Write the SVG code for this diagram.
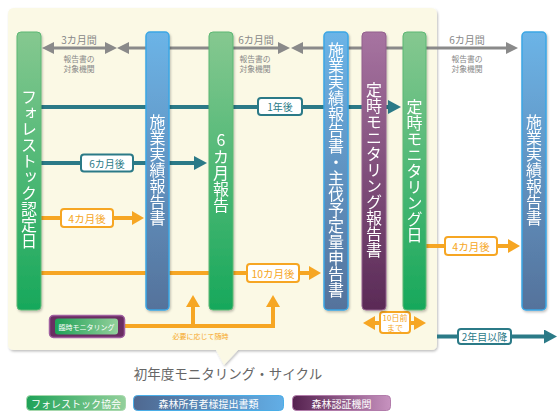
<svg xmlns="http://www.w3.org/2000/svg" width="560" height="418" viewBox="0 0 560 418">
<style>
text{font-family:"Noto Sans CJK JP","Noto Sans",sans-serif}
.vt{writing-mode:vertical-rl;font-size:16px;fill:#fff}
.ht{font-size:16px;fill:#fff;text-anchor:middle}
.gl{stroke:#8a8a8a;stroke-width:3;fill:none}
.tl{stroke:#2b7a87;stroke-width:4;fill:none}
.ol{stroke:#f6a623;stroke-width:4;fill:none}
.tb{fill:#fff;stroke:#2b7a87;stroke-width:2}
.ob{fill:#fff;stroke:#f6a623;stroke-width:2}
.tt{fill:#2b7a87;font-size:10px;text-anchor:middle;dominant-baseline:central}
.ot{fill:#f6a623;font-size:10.5px;text-anchor:middle;dominant-baseline:central}
.gt{fill:#888;font-size:10px;text-anchor:middle;dominant-baseline:central}
.gs{fill:#888;font-size:7.8px;text-anchor:middle;dominant-baseline:central}
.lg{fill:#fff;font-size:10px;text-anchor:middle;dominant-baseline:central}
.green{fill:url(#gG);stroke:#5cb874;stroke-width:1}
.blue{fill:url(#gB);stroke:#3ba7e5;stroke-width:1.5}
.purple{fill:url(#gP);stroke:#93608e;stroke-width:1}
</style>
<defs>
<linearGradient id="gG" x1="0" y1="0" x2="0" y2="1"><stop offset="0" stop-color="#86c890"/><stop offset="1" stop-color="#17a85b"/></linearGradient>
<linearGradient id="gB" x1="0" y1="0" x2="0" y2="1"><stop offset="0" stop-color="#6cb4e7"/><stop offset="1" stop-color="#55729b"/></linearGradient>
<linearGradient id="gP" x1="0" y1="0" x2="0" y2="1"><stop offset="0" stop-color="#a774a1"/><stop offset="1" stop-color="#5a2a56"/></linearGradient>
<linearGradient id="lG" x1="0" y1="0" x2="1" y2="0"><stop offset="0" stop-color="#1fa258"/><stop offset="1" stop-color="#93d09b"/></linearGradient>
<linearGradient id="lB" x1="0" y1="0" x2="1" y2="0"><stop offset="0" stop-color="#4f6890"/><stop offset="1" stop-color="#62aee6"/></linearGradient>
<linearGradient id="lP" x1="0" y1="0" x2="1" y2="0"><stop offset="0" stop-color="#55214f"/><stop offset="1" stop-color="#c792bf"/></linearGradient>
<filter id="sh" x="-20%" y="-5%" width="140%" height="110%"><feDropShadow dx="1" dy="1.5" stdDeviation="1" flood-color="#000" flood-opacity="0.25"/></filter>
<marker id="ag" viewBox="0 0 12 12" markerWidth="12" markerHeight="12" refX="1" refY="6" orient="auto-start-reverse" markerUnits="userSpaceOnUse"><path d="M0,0 L12,6 L0,12 Z" fill="#8a8a8a"/></marker>
<marker id="at" viewBox="0 0 13 14" markerWidth="13" markerHeight="14" refX="1" refY="7" orient="auto-start-reverse" markerUnits="userSpaceOnUse"><path d="M0,0 L13,7 L0,14 Z" fill="#2b7a87"/></marker>
<marker id="ao" viewBox="0 0 12 14" markerWidth="12" markerHeight="14" refX="1" refY="7" orient="auto-start-reverse" markerUnits="userSpaceOnUse"><path d="M0,0 L12,7 L0,14 Z" fill="#f6a623"/></marker>
</defs>

<rect width="560" height="418" fill="#fff"/>
<path id="panel" d="M14,8 H431 Q437,8 437,14 V344 Q437,350 431,350 H238 L224,365 L216,350 H14 Q8,350 8,344 V14 Q8,8 14,8 Z" fill="#fbf9e5" filter="url(#sh)"/>
<text x="228" y="379" font-size="13.5" fill="#666" text-anchor="middle">初年度モニタリング・サイクル</text>

<g id="connectors">
<line class="gl" x1="53" y1="48" x2="106" y2="48" marker-start="url(#ag)" marker-end="url(#ag)"/>
<line class="gl" x1="128" y1="48" x2="279" y2="48" marker-start="url(#ag)" marker-end="url(#ag)"/>
<line class="gl" x1="302" y1="48" x2="507" y2="48" marker-start="url(#ag)" marker-end="url(#ag)"/>
<text class="gt" x="79" y="39">3カ月間</text>
<text class="gs" x="79" y="58.5">報告書の</text>
<text class="gs" x="79" y="68.5">対象機関</text>
<text class="gt" x="256" y="39">6カ月間</text>
<text class="gs" x="255" y="58.5">報告書の</text>
<text class="gs" x="255" y="68.5">対象機関</text>
<text class="gt" x="467" y="39">6カ月間</text>
<text class="gs" x="467" y="58.5">報告書の</text>
<text class="gs" x="467" y="68.5">対象機関</text>

<line class="tl" x1="41" y1="107" x2="389" y2="107" marker-end="url(#at)"/>
<line class="tl" x1="41" y1="163" x2="195" y2="163" marker-end="url(#at)"/>
<line class="tl" x1="437" y1="336.5" x2="545" y2="336.5" marker-end="url(#at)"/>
<line class="ol" x1="41" y1="218" x2="133" y2="218" marker-end="url(#ao)"/>
<line class="ol" x1="41" y1="273" x2="310" y2="273" marker-end="url(#ao)"/>
<line class="ol" x1="426" y1="246" x2="509" y2="246" marker-end="url(#ao)"/>
<line class="ol" x1="374" y1="323" x2="415" y2="323" marker-start="url(#ao)" marker-end="url(#ao)"/>
<path class="ol" d="M124,326 H273 V306" marker-end="url(#ao)"/>
<path class="ol" d="M193,328 V306" marker-end="url(#ao)"/>
<text x="200.5" y="336" font-size="7" fill="#f6a623" text-anchor="middle" dominant-baseline="central">必要に応じて随時</text>

<rect class="tb" x="258" y="98" width="44" height="17" rx="3"/>
<text class="tt" x="280" y="106.5">1年後</text>
<rect class="tb" x="81" y="154.5" width="52" height="17" rx="3"/>
<text class="tt" x="107" y="163">6カ月後</text>
<rect class="tb" x="458" y="329" width="53" height="15" rx="3"/>
<text class="tt" x="484.5" y="336.5" font-size="10.5">2年目以降</text>
<rect class="ob" x="61" y="209" width="52" height="18" rx="3"/>
<text class="ot" x="87" y="218">4カ月後</text>
<rect class="ob" x="247" y="264" width="52" height="18" rx="3"/>
<text class="ot" x="273" y="273">10カ月後</text>
<rect class="ob" x="445" y="237" width="52" height="18" rx="3"/>
<text class="ot" x="471" y="246">4カ月後</text>
<rect class="ob" x="380" y="312" width="30" height="21" rx="3"/>
<text x="395" y="317.5" font-size="8" fill="#f6a623" text-anchor="middle" dominant-baseline="central">10日前</text>
<text x="395" y="327.5" font-size="8" fill="#f6a623" text-anchor="middle" dominant-baseline="central">まで</text>
</g>

<g id="n-forestock" filter="url(#sh)">
<rect class="green" x="17" y="32" width="24" height="278" rx="4"/>
<text class="vt" x="29" y="89">フォレストック認定日</text>
</g>
<g id="n-report1" filter="url(#sh)">
<rect class="blue" x="146" y="32" width="23" height="278" rx="4"/>
<text class="vt" x="157.5" y="114">施業実績報告書</text>
</g>
<g id="n-6month" filter="url(#sh)">
<rect class="green" x="209" y="32" width="24" height="278" rx="4"/>
<text class="ht" x="221" y="146">6</text>
<text class="vt" x="221" y="149">カ月報告</text>
</g>
<g id="n-report2" filter="url(#sh)">
<rect class="blue" x="324" y="32" width="24" height="278" rx="4"/>
<text class="vt" x="336" y="42">施業実績報告書・主伐予定量申告書</text>
</g>
<g id="n-monreport" filter="url(#sh)">
<rect class="purple" x="362" y="32" width="24" height="278" rx="4"/>
<text class="vt" x="374" y="82">定時モニタリング報告書</text>
</g>
<g id="n-monday" filter="url(#sh)">
<rect class="green" x="403" y="32" width="23" height="278" rx="4"/>
<text class="vt" x="414.5" y="99">定時モニタリング日</text>
</g>
<g id="n-report3" filter="url(#sh)">
<rect class="blue" x="522" y="32" width="24" height="278" rx="4"/>
<text class="vt" x="534" y="114">施業実績報告書</text>
</g>
<g id="n-adhoc">
<rect x="49.5" y="315.5" width="75" height="22" rx="4" fill="#6a2d62" stroke="#a060a0" stroke-width="1.5"/>
<rect x="55" y="318.5" width="63" height="16" rx="3" fill="url(#lG)"/>
<text x="86.5" y="326.5" font-size="7" fill="#fff" text-anchor="middle" dominant-baseline="central">臨時モニタリング</text>
</g>

<g id="legend">
<g id="lg-green"><rect x="26.5" y="395.5" width="99" height="15" rx="4" fill="url(#lG)" stroke="#a6d8ac" stroke-width="1"/><text class="lg" x="76" y="403">フォレストック協会</text></g>
<g id="lg-blue"><rect x="133.5" y="395.5" width="150" height="15" rx="4" fill="url(#lB)" stroke="#4aaee8" stroke-width="1"/><text class="lg" x="208.5" y="403">森林所有者様提出書類</text></g>
<g id="lg-purple"><rect x="292.5" y="395.5" width="98" height="15" rx="4" fill="url(#lP)" stroke="#b27cab" stroke-width="1"/><text class="lg" x="341.5" y="403">森林認証機関</text></g>
</g>
</svg>
